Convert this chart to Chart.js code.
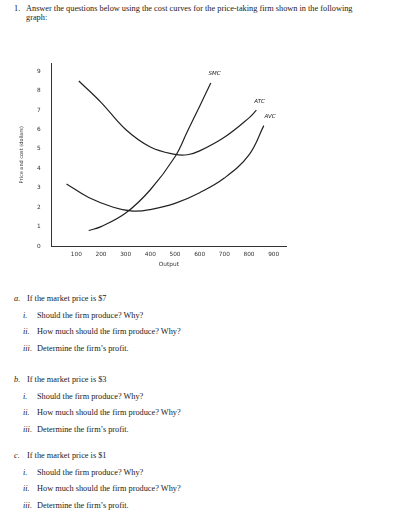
<!DOCTYPE html>
<html><head><meta charset="utf-8">
<script src="https://cdn.jsdelivr.net/npm/chart.js@4"></script>
<style>
body{margin:0;background:#fff;font-family:"Liberation Serif",serif;color:#222;}
.t{position:absolute;font-size:8.3px;white-space:nowrap;}
#wrap{position:absolute;left:15px;top:52px;width:283px;height:220px;}
</style></head><body>
<div class="t" style="left:14px;top:4px">1.&nbsp;&nbsp; Answer the questions below using the cost curves for the price-taking firm shown in the following</div>
<div class="t" style="left:26px;top:13px">graph:</div>
<div id="wrap"><canvas id="c"></canvas></div>
<div id="q"></div>
<script>
const xTicks=[100,200,300,400,500,600,700,800,900];
const yTicks=[0,1,2,3,4,5,6,7,8,9];
const atcX=[110,200,300,400,500,550,600,700,800,830];
const atcY=[8.5,7.4,6.0,5.1,4.72,4.7,4.9,5.6,6.6,7.0];
const avcX=[60,150,250,330,400,500,600,700,800,860];
const avcY=[3.2,2.5,2.0,1.8,1.88,2.2,2.75,3.5,4.7,6.2];
const smcX=[150,200,300,400,500,550,600,645];
const smcY=[0.8,1.0,1.7,2.9,4.6,5.9,7.2,8.4];
const curveLabels=[["SMC",660,8.8],["ATC",843,7.35],["AVC",885,6.6]];
const zip=(xs,ys)=>xs.map((x,i)=>({x,y:ys[i]}));
const ds=(d)=>({data:d,borderColor:'#222',borderWidth:1.2,pointRadius:0,tension:0.4,fill:false});
const lab={id:'lab',afterDatasetsDraw(ch){const c=ch.ctx,x=ch.scales.x,y=ch.scales.y;c.save();c.font='italic 5.5px "DejaVu Sans"';c.fillStyle='#222';c.textAlign='center';
curveLabels.forEach(l=>c.fillText(l[0],x.getPixelForValue(l[1]),y.getPixelForValue(l[2])));c.restore();}};
new Chart(document.getElementById('c'),{type:'line',data:{datasets:[ds(zip(atcX,atcY)),ds(zip(avcX,avcY)),ds(zip(smcX,smcY))]},
options:{responsive:true,maintainAspectRatio:false,animation:false,
plugins:{legend:{display:false},tooltip:{enabled:false}},layout:{padding:{right:12,top:4}},
scales:{x:{type:'linear',min:0,max:950,afterBuildTicks(s){s.ticks=xTicks.map(v=>({value:v}));},
grid:{display:false,drawTicks:true,tickLength:3,color:'#444'},border:{color:'#333'},
ticks:{font:{size:5.8,family:'DejaVu Sans'},color:'#333',padding:2},
title:{display:true,text:'Output',font:{size:5.8,family:'DejaVu Sans'},color:'#333',padding:{top:1}}},
y:{min:0,max:9.4,afterBuildTicks(s){s.ticks=yTicks.map(v=>({value:v}));},
grid:{display:false,tickLength:3,color:'#444'},border:{color:'#333'},
ticks:{font:{size:5.8,family:'DejaVu Sans'},color:'#333',padding:8},
title:{display:true,text:'Price and cost (dollars)',font:{size:5,family:'DejaVu Sans'},color:'#333',padding:{bottom:4}}}}},
plugins:[lab]});
const qs=[["a.","If the market price is $7",300],["b.","If the market price is $3",381],["c.","If the market price is $1",457]];
const subs=[["i.","Should the firm produce? Why?"],["ii.","How much should the firm produce? Why?"],["iii.","Determine the firm’s profit."]];
let h='';
qs.forEach(q=>{h+=`<div class="t" style="left:14px;top:${q[2]-6}px"><i>${q[0]}</i></div><div class="t" style="left:27px;top:${q[2]-6}px">${q[1]}</div>`;
subs.forEach((s,i)=>{const t=q[2]-6+16.5*(i+1);h+=`<div class="t" style="left:23px;top:${t}px"><i>${s[0]}</i></div><div class="t" style="left:37px;top:${t}px">${s[1]}</div>`;});});
document.getElementById('q').innerHTML=h;
</script></body></html>
